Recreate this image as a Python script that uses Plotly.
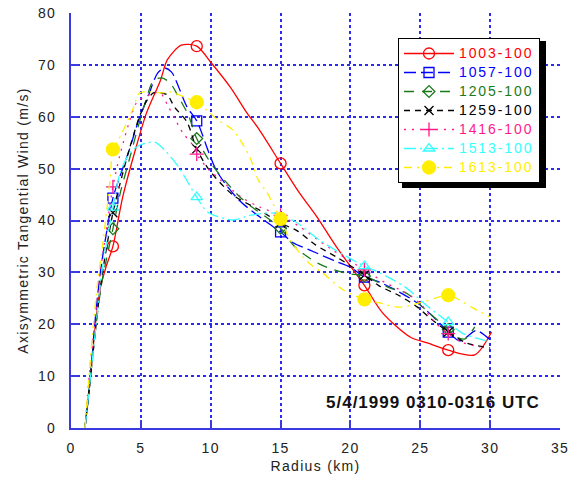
import plotly.graph_objects as go

# ---------------- data ----------------
MARK_R = [3, 9, 15, 21, 27]

names = ["1003-100", "1057-100", "1205-100", "1259-100", "1416-100", "1513-100", "1613-100"]

x_1003 = [1, 1.4, 1.75, 2.1, 2.5, 3, 3.7, 4.7, 5.4, 6.4, 6.9, 7.9, 9, 10, 11.4, 12.6, 13.4, 15, 16.3, 17.6, 19, 21, 22.3, 24.3, 25.5, 27, 28.9, 30.1]
y_1003 = [0, 10, 20, 27, 31, 35, 44.5, 54.5, 60.7, 67, 71, 73.8, 73.6, 70.5, 65.7, 60.7, 57.8, 51, 45.5, 40.7, 34.9, 27.5, 22.2, 17.5, 16.4, 15, 14.1, 18.5]

x_1057 = [1, 1.4, 1.7, 2.1, 2.5, 3, 3.5, 4.1, 4.9, 5.5, 6.2, 6.7, 7.2, 8.3, 9, 10.4, 12, 14.1, 15, 15.9, 17.1, 18.8, 20, 21, 22.1, 23.5, 25, 26.5, 27, 27.8, 28.3, 29, 30]
y_1057 = [0, 10, 20, 30, 37, 44.3, 48.5, 53, 59.8, 63.8, 68.4, 69.4, 68.6, 61.9, 59.2, 49.7, 44, 39.5, 37.8, 35.7, 34.3, 32.3, 31, 29.1, 28.1, 26.2, 23.7, 19.9, 18.5, 16.8, 17.5, 18.8, 17]

x_1205 = [1, 1.4, 1.8, 2.2, 3, 3.5, 4.2, 4.8, 5.4, 5.9, 6.5, 7.1, 7.7, 8.4, 9, 10.1, 11.4, 12.1, 13, 15, 16, 17.5, 18.5, 19.8, 21, 22.8, 24, 25.5, 27, 27.6, 28.2, 28.9]
y_1205 = [0, 10, 20, 28, 38.4, 45, 52, 58, 63.5, 67, 67.5, 66.5, 63.8, 60.3, 55.8, 50.7, 46.5, 44.5, 42.5, 38.5, 35, 32, 30.8, 29.8, 29.3, 27, 26, 22.5, 19, 17.5, 17.2, 19.5]

x_1259 = [1, 1.4, 1.8, 2.2, 3, 3.5, 4.2, 4.9, 5.4, 5.9, 6.4, 6.9, 7.4, 8.3, 9, 9.9, 11.6, 13.5, 15, 16.2, 17.5, 19.1, 21, 22, 23.5, 24.8, 25.6, 26.5, 27, 28.3, 30]
y_1259 = [0, 10, 20, 29, 41.5, 47, 54, 60, 63, 64.6, 64.6, 64.2, 61.9, 59, 53.8, 49.7, 44.9, 42, 39.5, 38, 35.3, 32.8, 29.5, 27.5, 25.5, 23.3, 21.4, 19.5, 18.5, 16.4, 15.4]

x_1416 = [1, 1.3, 1.7, 2.1, 2.5, 3, 3.5, 4.4, 4.8, 5.3, 5.9, 6.4, 6.9, 7.4, 8, 8.7, 9, 9.7, 10.7, 12.3, 13.5, 15, 16.2, 18.5, 21, 22.5, 24, 25, 26, 27, 28, 29.3]
y_1416 = [0, 10, 20, 30, 37.6, 46.5, 52.6, 60.9, 63.2, 63.8, 64.6, 64.6, 62.3, 59.8, 56.9, 54.6, 52.8, 50.3, 47.8, 44.3, 42.6, 41, 39.1, 34.7, 30.5, 28, 26, 24, 20.5, 18.2, 16.5, 15.6]

x_1513 = [1, 1.4, 1.8, 2.2, 3, 3.5, 4.2, 4.9, 5.5, 6, 6.7, 7.7, 9, 9.8, 11.6, 12.8, 14.6, 15, 15.9, 17.8, 19.3, 21, 22.1, 23.9, 25.5, 27, 28, 30]
y_1513 = [0, 10, 20, 30, 42.5, 49, 53, 54.5, 55, 55.1, 53.6, 50.3, 44.5, 41.6, 40.1, 41, 41.4, 40.5, 40, 36.2, 33.7, 31.2, 29.9, 27.2, 23.5, 20.4, 18.3, 16.6]

x_1613 = [1, 1.6, 1.9, 2.3, 2.8, 3, 3.4, 4.4, 4.9, 5.4, 6.6, 7.1, 8.3, 9, 9.7, 10.5, 11.6, 12.8, 13.4, 14, 15, 15.7, 16.6, 17.2, 18, 19.5, 21, 22.1, 23.5, 25.2, 27, 27.8, 28.8, 30]
y_1613 = [0, 20, 28, 36, 48, 53.7, 55.5, 61.3, 64.6, 64.8, 64.6, 64.8, 63.6, 62.8, 61.3, 59.4, 57.4, 52.2, 47.8, 45.5, 40.3, 36.2, 33, 31.4, 29.9, 26.6, 24.8, 24.1, 23.3, 24.3, 25.6, 24.7, 23.1, 21.4]

x_ticks = [0, 5, 10, 15, 20, 25, 30, 35]
y_ticks = [0, 10, 20, 30, 40, 50, 60, 70, 80]

xs = [x_1003, x_1057, x_1205, x_1259, x_1416, x_1513, x_1613]
ys = [y_1003, y_1057, y_1205, y_1259, y_1416, y_1513, y_1613]

# ---------------- styles ----------------
FONT = "Arial, Liberation Sans"
LS = "letter-spacing:1.3px"
colors = ["#ff0000", "#0000ff", "#1a7a1a", "#000000", "#ff1a8c", "#33ffff", "#ffee00"]
dashes = ["solid", "12px,5px", "10px,8px", "6px,5px", "2px,6px", "12px,4px,2px,4px", "8px,5px,2px,5px"]
symbols = ["circle-open", "square-open", "diamond-open", "x-thin-open", "cross-thin-open", "triangle-up-open", "circle"]
msizes = [11, 10, 9, 9, 10, 10, 13]


def sp(t, extra=""):
    return '<span style="%s%s">%s</span>' % (LS, extra, t)


fig = go.Figure()
for i in range(len(names)):
    x, y = xs[i], ys[i]
    fig.add_trace(go.Scatter(x=x, y=y, mode="lines",
                             line=dict(color=colors[i], width=1.3, dash=dashes[i], shape="spline", smoothing=0.8),
                             showlegend=False, hoverinfo="skip"))
    mx = [xv for xv in x if xv in MARK_R]
    my = [y[j] for j, xv in enumerate(x) if xv in MARK_R]
    fig.add_trace(go.Scatter(x=mx, y=my, mode="markers",
                             marker=dict(symbol=symbols[i], size=msizes[i], color=colors[i],
                                         line=dict(color=colors[i], width=1.3)),
                             showlegend=False))
    fig.add_trace(go.Scatter(x=[None], y=[None], mode="lines+markers",
                             name=sp(names[i], ";letter-spacing:1.9px;color:%s;font-size:14px" % colors[i]),
                             line=dict(color=colors[i], width=1.3, dash=dashes[i]),
                             marker=dict(symbol=symbols[i], size=msizes[i], color=colors[i],
                                         line=dict(color=colors[i], width=1.3))))

axis_common = dict(showline=True, linecolor="#3a3ae0", linewidth=2, ticks="inside", ticklen=8,
                   tickcolor="#3a3ae0", tickwidth=1.5, automargin=False,
                   showgrid=True, gridcolor="#2a2af0", griddash="dot", gridwidth=1.5, zeroline=False,
                   tickfont=dict(family=FONT, size=14, color="#222222"),
                   title_font=dict(family=FONT, size=14, color="#222222"))

fig.update_xaxes(range=[0, 35], tickvals=x_ticks, ticktext=[sp(str(v)) for v in x_ticks],
                 title_text=sp("Radius (km)"), title_standoff=6, ticklabelstandoff=6, **axis_common)
fig.update_yaxes(range=[0, 80], tickvals=y_ticks, ticktext=[sp(str(v)) for v in y_ticks],
                 title_text=sp("Axisymmetric Tangential Wind (m/s)"), title_standoff=6, ticklabelstandoff=10,
                 **axis_common)

fig.add_annotation(x=25.9, y=5.0, xref="x", yref="y",
                   text="<b>" + sp("5/4/1999 0310-0316 UTC", ";letter-spacing:1px") + "</b>",
                   showarrow=False, font=dict(family=FONT, size=17, color="#111111"))

# legend drop shadow
fig.add_shape(type="rect", xref="paper", yref="paper", x0=(402 - 71) / 489, x1=(546 - 71) / 489,
              y0=(428 - 188) / 415, y1=(428 - 41) / 415, fillcolor="black", line=dict(width=0), layer="above")

fig.update_layout(width=580, height=479, margin=dict(l=71, r=20, t=13, b=51),
                  plot_bgcolor="white", paper_bgcolor="white",
                  legend=dict(x=(398 - 71) / 489, y=(428 - 38) / 415, xanchor="left", yanchor="top",
                              bgcolor="white", bordercolor="black", borderwidth=1, itemwidth=50,
                              font=dict(family=FONT, size=12), tracegroupgap=0))

fig.write_html("out.html")
